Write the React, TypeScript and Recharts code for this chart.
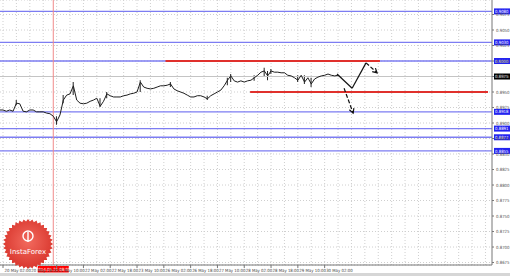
import { Bar, CartesianGrid, ComposedChart, Line, ReferenceLine, XAxis, YAxis } from "recharts";

// hourly bar index, 0 = 20 May 02:00 (weekend skipped); one point every 2 bars
const firstBar = -2;
const closes = [
  0.8921, 0.8921, 0.8919, 0.8921, 0.8919, 0.8932, 0.8931, 0.8919, 0.8918, 0.8921,
  0.8921, 0.8918, 0.8918, 0.8918, 0.8916, 0.8915, 0.8911, 0.8902, 0.8913, 0.8937,
  0.8945, 0.8947, 0.896, 0.8937, 0.8932, 0.8931, 0.8932, 0.8935, 0.8937, 0.894,
  0.8927, 0.8935, 0.8947, 0.8944, 0.8942, 0.8942, 0.8942, 0.8944, 0.8945, 0.8947,
  0.8948, 0.895, 0.8966, 0.8958, 0.8956, 0.8955, 0.8956, 0.8958, 0.896, 0.896,
  0.8961, 0.8963, 0.8955, 0.8952, 0.895, 0.8948, 0.8945, 0.8942, 0.8942, 0.8944,
  0.8944, 0.8942, 0.8939, 0.8944, 0.8947, 0.895, 0.8953, 0.896, 0.8969, 0.8976,
  0.8968, 0.8966, 0.8968, 0.8966, 0.8968, 0.8969, 0.8973, 0.8977, 0.8982, 0.8984,
  0.8976, 0.8984, 0.8982, 0.8982, 0.8981, 0.8981, 0.8977, 0.8976, 0.8973, 0.8969,
  0.8977, 0.8966, 0.8973, 0.8963, 0.8971, 0.8974, 0.8976, 0.8977, 0.8979, 0.8977,
  0.8976, 0.8977,
];
// [bar, low, high] for the visible spikes
const wicks: [number, number, number][] = [
  [8, 0.8929, 0.8937], [32, 0.8897, 0.8911], [36, 0.8932, 0.8945], [42, 0.8945, 0.8966],
  [58, 0.8926, 0.894], [62, 0.894, 0.895], [82, 0.895, 0.8969], [100, 0.8958, 0.8966],
  [122, 0.8937, 0.8944], [134, 0.8961, 0.8973], [136, 0.8966, 0.8979], [150, 0.8968, 0.8977],
  [156, 0.8976, 0.8989], [158, 0.8969, 0.8984], [160, 0.8979, 0.8987], [176, 0.8966, 0.8977],
  [180, 0.8963, 0.8977], [184, 0.8958, 0.8973],
];

const timeTicks = [0, 16, 32, 48, 64, 80, 96, 112, 128, 144, 160, 176, 192];
const timeLabels = [
  "20 May 02:00", "20 May 18:00", "21 May 10:00", "22 May 02:00", "22 May 18:00",
  "23 May 10:00", "26 May 02:00", "26 May 18:00", "27 May 10:00", "28 May 02:00",
  "28 May 18:00", "29 May 10:00", "30 May 02:00",
];
const priceTicks = [
  0.8675, 0.87, 0.8725, 0.875, 0.8775, 0.88, 0.8825, 0.885, 0.8875, 0.89, 0.8925,
  0.895, 0.8975, 0.9, 0.9025, 0.905, 0.9075,
];
const levels = [0.908, 0.903, 0.9, 0.8918, 0.8891, 0.8877, 0.8855];
const currentPrice = 0.8975;
const markedBar = 30;
const markedLabel = "2014.05.21 08:00";
const redLevels = [
  { from: 97, to: 225, y: 0.9 },
  { from: 147.5, to: 289.5, y: 0.895 },
];
// forecast arrows: [from, to, dashed, head]
const arrows: [[number, number], [number, number], boolean, boolean][] = [
  [[199.4, 0.8979], [208.4, 0.8956], false, false],
  [[208.4, 0.8956], [216.7, 0.8997], false, false],
  [[216.7, 0.8997], [223.3, 0.8981], true, true],
  [[203.6, 0.8956], [209, 0.8916], true, true],
];

const rows = closes.map((c, k) => {
  const i = firstBar + 2 * k;
  const w = wicks.find((x) => x[0] === i);
  return { i, c, w: w ? [w[1], w[2]] : undefined };
});

const gridX = Array.from({ length: 37 }, (_, k) => k * 8);
const fmt = (v: number) => v.toFixed(4);
const small = "'DejaVu Sans Condensed', 'Liberation Sans Narrow', sans-serif";

const TimeTick = (p: any) => (
  <g>
    <line x1={p.x} x2={p.x} y1={265} y2={268} stroke="#777" />
    <text x={p.x + 1.5} y={271.5} fontSize={4.3} fill="#444" fontFamily={small}>
      {timeLabels[p.index]}
    </text>
  </g>
);

const PriceTick = (p: any) => (
  <text x={496} y={p.y + 1.5} fontSize={4.3} fill="#555" fontFamily={small}>
    {fmt(p.payload.value)}
  </text>
);

const levelBox = (fill: string, text: string) => (p: any) => {
  const vb = p.viewBox;
  const x = vb.x + vb.width + 2;
  return (
    <g>
      <rect x={x} y={vb.y - 3} width={16} height={6} fill={fill} />
      <text x={x + 1} y={vb.y + 1.6} fontSize={4.3} fill="#fff" fontFamily={small}>
        {text}
      </text>
    </g>
  );
};

const arrowShape = (dashed: boolean, head: boolean) => (p: any) => {
  const { x1, y1, x2, y2 } = p;
  const a = Math.atan2(y2 - y1, x2 - x1);
  const h = 5;
  const l = `M${x2 - h * Math.cos(a - 0.5)},${y2 - h * Math.sin(a - 0.5)}L${x2},${y2}L${x2 - h * Math.cos(a + 0.5)},${y2 - h * Math.sin(a + 0.5)}`;
  return (
    <g>
      <line x1={x1} y1={y1} x2={x2} y2={y2} stroke="#111" strokeWidth={1.2} strokeDasharray={dashed ? "4 2" : undefined} />
      {head && <path d={l} fill="none" stroke="#111" strokeWidth={1.2} />}
    </g>
  );
};

function Seal() {
  const pts: string[] = [];
  for (let k = 0; k < 72; k++) {
    const r = k % 2 === 0 ? 25 : 22.5;
    const a = (k / 72) * Math.PI * 2;
    pts.push(`${28 + r * Math.cos(a)},${244 + r * Math.sin(a)}`);
  }
  return (
    <svg width={510} height={276} style={{ position: "absolute", left: 0, top: 0, pointerEvents: "none" }}>
      <defs>
        <radialGradient id="sealGrad" cx="50%" cy="45%" r="55%">
          <stop offset="0%" stopColor="#f26a5e" />
          <stop offset="100%" stopColor="#d9362d" />
        </radialGradient>
      </defs>
      <polygon points={pts.join(" ")} fill="url(#sealGrad)" />
      <circle cx={28} cy={236} r={5} fill="none" stroke="#fff" strokeWidth={1.4} />
      <line x1={28} y1={232} x2={28} y2={242} stroke="#fff" strokeWidth={1.4} />
      <text x={28} y={254} fontSize={7} fill="#fff" textAnchor="middle" fontFamily="DejaVu Sans">
        InstaForex
      </text>
    </svg>
  );
}

export default function App() {
  return (
    <div style={{ position: "absolute", left: 0, top: 0, width: 510, height: 276, background: "#fff" }}>
      <div style={{ position: "absolute", left: 0, top: 273, width: 510, height: 3, background: "#d6d6d6" }} />
      <ComposedChart width={510} height={276} data={rows} margin={{ top: 0, right: 0, bottom: 0, left: 0 }}>
        <CartesianGrid stroke="#cfcfcf" strokeDasharray="1 2" verticalValues={gridX} />
        <XAxis
          dataKey="i"
          type="number"
          domain={[-1.8, 291.9]}
          allowDataOverflow
          ticks={timeTicks}
          interval={0}
          height={11}
          tickSize={0}
          tickLine={false}
          axisLine={{ stroke: "#777" }}
          tick={<TimeTick />}
        />
        <YAxis
          orientation="right"
          type="number"
          domain={[0.8671, 0.90984]}
          allowDataOverflow
          ticks={priceTicks}
          interval={0}
          width={18}
          tickSize={2}
          tickMargin={1}
          tick={<PriceTick />}
          axisLine={{ stroke: "#777" }}
          tickLine={{ stroke: "#777" }}
        />
        <ReferenceLine y={currentPrice} stroke="#c4c4c4" label={{ content: levelBox("#000", fmt(currentPrice)) }} />
        {levels.map((v) => (
          <ReferenceLine key={v} y={v} stroke="#7d7df2" strokeWidth={1.4} label={{ content: levelBox("#2323f0", fmt(v)) }} />
        ))}
        {redLevels.map((r) => (
          <ReferenceLine
            key={r.y}
            segment={[{ x: r.from, y: r.y }, { x: r.to, y: r.y }]}
            stroke="#e0302c"
            strokeWidth={2}
          />
        ))}
        <ReferenceLine
          x={markedBar}
          stroke="#f08a8a"
          label={{
            content: (p: any) => (
              <g>
                <rect x={p.viewBox.x - 15.5} y={266} width={31} height={6.5} fill="#f00" />
                <text x={p.viewBox.x} y={271} fontSize={4.3} fill="#fff" textAnchor="middle" fontFamily={small}>
                  {markedLabel}
                </text>
              </g>
            ),
          }}
        />
        <Bar dataKey="w" barSize={1} fill="#222" isAnimationActive={false} />
        <Line dataKey="c" type="linear" stroke="#1e1e1e" strokeWidth={1} dot={false} isAnimationActive={false} />
        {arrows.map((a, k) => (
          <ReferenceLine
            key={k}
            segment={[{ x: a[0][0], y: a[0][1] }, { x: a[1][0], y: a[1][1] }]}
            shape={arrowShape(a[2], a[3])}
          />
        ))}
      </ComposedChart>
      <Seal />
    </div>
  );
}
